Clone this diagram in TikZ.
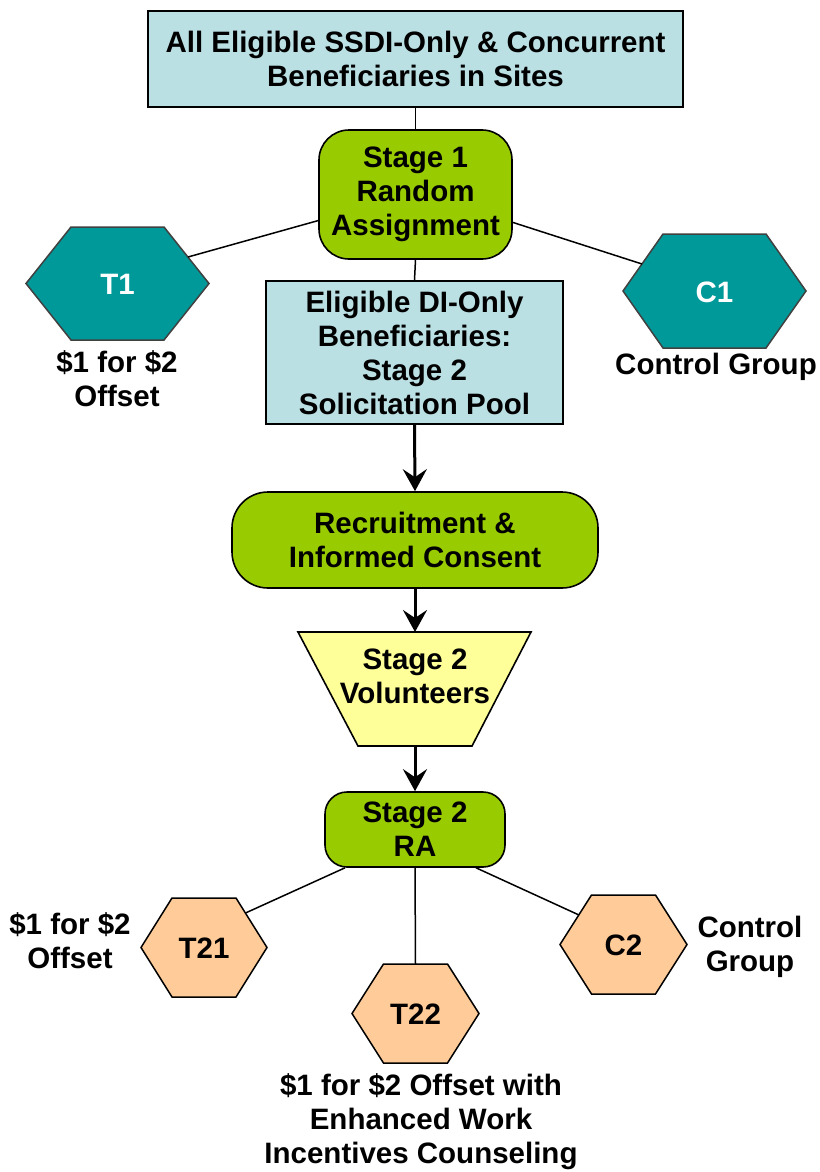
\documentclass[tikz,border=0pt]{standalone}
\usepackage{fontspec}
\setmainfont{Liberation Sans}
\usepackage{tikz}
\usetikzlibrary{arrows.meta, positioning, calc}

\definecolor{poolblue}{RGB}{186,224,228}
\definecolor{ragreen}{RGB}{153,204,0}
\definecolor{hexteal}{RGB}{0,153,153}
\definecolor{hexpeach}{RGB}{255,204,153}
\definecolor{volyellow}{RGB}{255,255,153}

\begin{document}
\begin{tikzpicture}[
    x=1pt, y=-1pt,
    >={Stealth[length=22pt, width=24pt, inset=8pt]},
    every node/.style={font=\fontsize{29.5}{34}\selectfont\bfseries, align=center, inner sep=0pt},
    bluebox/.style={draw, line width=2pt, fill=poolblue},
    greenbox/.style={draw, line width=1.6pt, fill=ragreen, rounded corners=#1},
    greenbox/.default=30pt,
    link/.style={line width=1.5pt},
    flow/.style={->, line width=3pt},
    tealhex/.style={draw=black!75, line width=1.5pt, fill=hexteal},
    tealhex text/.style={text=white},
    peachhex/.style={draw, line width=1.5pt, fill=hexpeach},
    peachhex text/.style={text=black}
]
\useasboundingbox (0,0) rectangle (819,1172);

% Stage 1 part
\node[bluebox, minimum width=535pt, minimum height=96pt] (pool) at (415.5,59)
    {All Eligible SSDI-Only \& Concurrent\\Beneficiaries in Sites};
\node[greenbox, minimum width=193pt, minimum height=129pt] (s1) at (415.5,194.5)
    {Stage 1\\Random\\Assignment};
\node[bluebox, minimum width=297pt, minimum height=143pt] (elig) at (414.5,352.5)
    {Eligible DI-Only\\Beneficiaries:\\Stage 2\\Solicitation Pool};

% Stage 2 part
\node[greenbox=36pt, minimum width=366pt, minimum height=96pt] (rec) at (415,540)
    {Recruitment \&\\Informed Consent};
\draw[line width=1.6pt, fill=volyellow] (298,632) -- (531,632) -- (472,746) -- (358,746) -- cycle;
\coordinate (voltop) at (415,632);
\coordinate (volbot) at (415,746);
\node (vol) at (415,676) {Stage 2\\Volunteers};
\node[greenbox=22pt, minimum width=180pt, minimum height=75pt] (ra) at (415,829.5)
    {Stage 2\\RA};

% Hexagon groups
\foreach \name/\cx/\cy/\a/\b/\h/\kind in {T1/117.5/283.5/91.5/46.5/56.5/tealhex,
    C1/714.5/291/91.5/51.5/57/tealhex, T21/204/947.5/63/32/49.5/peachhex,
    T22/415.5/1013.5/63.5/32/49.5/peachhex, C2/623.5/944.5/63.5/32/49.5/peachhex} {
    \draw[\kind] (\cx-\a,\cy) -- (\cx-\b,\cy-\h) -- (\cx+\b,\cy-\h) -- (\cx+\a,\cy)
        -- (\cx+\b,\cy+\h) -- (\cx-\b,\cy+\h) -- cycle;
    \node[\kind\space text] (\name) at (\cx,\cy+1) {\name};
}
\coordinate (t1end) at (188,257);
\coordinate (c1end) at (642,264);
\coordinate (t21end) at (245.5,913);
\coordinate (t22end) at (415.5,964);
\coordinate (c2end) at (579,915);

% Connectors
\draw[link] (pool.south) -- (s1.north);
\draw[link] (s1.south) -- (elig.north);
\draw[link] (s1.195) -- (t1end);
\draw[link] (s1.344) -- (c1end);
\draw[flow] (elig.south) -- (rec.north);
\draw[flow] (rec.south) -- (voltop);
\draw[flow] (volbot) -- (ra.north);
\draw[link] ($(ra.south)+(-70,0)$) -- (t21end);
\draw[link] (ra.south) -- (t22end);
\draw[link] ($(ra.south)+(61,0)$) -- (c2end);

% Labels
\node (t1lab) at (117,379) {\$1 for \$2\\Offset};
\node (c1lab) at (716,367) {Control Group};
\node (t21lab) at (70,941) {\$1 for \$2\\Offset};
\node (c2lab) at (750,947) {Control\\Group};
\node (t22lab) at (421,1122) {\$1 for \$2 Offset with\\Enhanced Work\\Incentives Counseling};
\end{tikzpicture}
\end{document}
